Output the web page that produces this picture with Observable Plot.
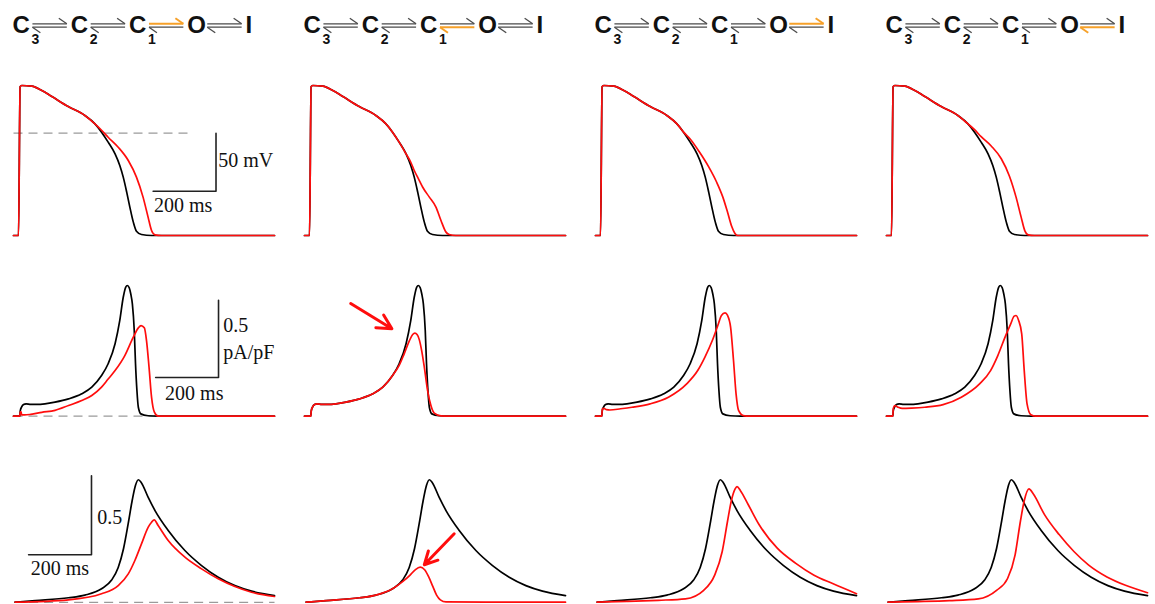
<!DOCTYPE html>
<html><head><meta charset="utf-8">
<script src="https://cdn.jsdelivr.net/npm/d3@7"></script>
<script src="https://cdn.jsdelivr.net/npm/@observablehq/plot@0.6"></script>
<style>
body{margin:0;background:#fff;width:1155px;height:604px;overflow:hidden;font-family:"Liberation Sans",Arial,sans-serif}
#fig svg{display:block;background:#fff}
</style></head><body><div id="fig"></div>
<script>
// ---------- header (kinetic scheme) ----------
const columns = [1, 2, 3, 4];
const states = ["C", "C", "C", "O", "I"];
const stateSubs = ["3", "2", "1", "", ""];
const highlightStep = [2, 2, 3, 3];          // transition index highlighted in each column
const highlightDir = ["fwd", "bwd", "fwd", "bwd"];

// ---------- row 1: membrane potential (ms, mV) ----------
const apControl = [[0,-88],[16,-88],[21,40],[26,41],[58,40.4],[90,36.7],[122,31.5],[174,22.9],[227,15.2],[259,8],[280,0.9],[301,-7.7],[323,-17.8],[338,-27.8],[349,-37.8],[360,-50.7],[370,-63.6],[381,-76.5],[391,-84.3],[407,-87.1],[439,-88],[830,-88]];
const apTail1 = [[280,2.5],[301,-3.5],[333,-12.1],[365,-23.5],[391,-37.8],[412,-55],[428,-72.2],[439,-83.7],[450,-87.4],[471,-88],[830,-88]];
const apTail2 = [[338,-25],[349,-32.1],[362,-39],[376,-46.5],[397,-55],[418,-63.6],[434,-75.1],[450,-85.1],[460,-87.1],[481,-88],[830,-88]];
const apTail3 = [[301,-5],[330,-16],[360,-29],[385,-42],[405,-55],[420,-68],[433,-80],[443,-86],[452,-88],[830,-88]];
const apTail4 = [[280,3],[301,-3],[333,-11],[365,-22],[391,-37],[412,-55],[428,-72],[440,-84],[451,-87.5],[470,-88],[830,-88]];
const apTailStart = [259, 323, 280, 259];   // last control time shared with each red trace

// ---------- row 2: current (ms, pA/pF) ----------
const curControl = [[0,0],[20,0],[21.5,0.035],[26,0.06],[32,0.075],[40,0.08],[55,0.076],[75,0.076],[100,0.08],[132,0.091],[175,0.112],[217,0.145],[249,0.188],[280,0.263],[301,0.339],[323,0.468],[338,0.619],[349,0.769],[357,0.835],[362,0.845],[368,0.83],[373,0.79],[378,0.726],[384,0.554],[388,0.339],[392.5,0.166],[397,0.058],[405,0.015],[428,0.003],[460,0],[830,0]];
const curRed1 = [[0,0],[20,0],[21.5,0.028],[24,0.028],[26,0.008],[35,0.008],[55,0.012],[90,0.025],[132,0.038],[175,0.069],[217,0.101],[249,0.134],[280,0.188],[301,0.24],[323,0.295],[354,0.392],[381,0.511],[397,0.571],[405.5,0.586],[416,0.571],[423,0.489],[431,0.317],[439,0.123],[448,0.026],[460,0],[830,0]];
const curTail2 = [[301,0.328],[317,0.403],[333,0.485],[344,0.528],[351,0.537],[358,0.528],[365,0.495],[372,0.43],[381,0.317],[391.5,0.166],[402,0.069],[412.6,0.02],[434,0.002],[460,0],[830,0]];
const curRed3 = [[0,0],[20,0],[21.5,0.045],[27,0.05],[35,0.042],[46,0.04],[80,0.048],[116,0.058],[174,0.08],[232,0.123],[290,0.209],[325,0.295],[348,0.382],[371.5,0.489],[389,0.586],[400.5,0.651],[412,0.668],[420,0.651],[429.6,0.576],[438.9,0.36],[447,0.144],[455,0.037],[470,0.004],[490,0],[830,0]];
const curRed4 = [[0,0],[20,0],[21.5,0.05],[27,0.068],[35,0.06],[50,0.05],[80,0.052],[122,0.058],[180,0.075],[238,0.123],[296,0.209],[331,0.295],[354,0.392],[377,0.511],[395,0.597],[406,0.647],[412,0.651],[420,0.62],[430,0.532],[438,0.295],[447,0.08],[459,0.01],[475,0],[830,0]];

// ---------- row 3: normalised signal (ms, a.u.) ----------
const sigControl = [[5,0],[69,0.01],[175,0.028],[227,0.045],[280,0.085],[312,0.14],[333,0.22],[350,0.34],[365,0.5],[378,0.65],[388,0.74],[397,0.775],[407,0.755],[428,0.665],[450,0.58],[492,0.454],[545,0.327],[598,0.232],[651,0.158],[704,0.105],[757,0.07],[830,0.042]];
const sigRed1 = [[5,0],[175,0.015],[280,0.053],[333,0.105],[365,0.179],[386,0.264],[407,0.369],[428.5,0.475],[439,0.506],[447.6,0.521],[460,0.485],[492,0.39],[545,0.285],[598,0.211],[651,0.148],[704,0.099],[757,0.063],[830,0.036]];
const sigRed2 = [[5,0],[69,0.01],[175,0.028],[227,0.045],[280,0.085],[312,0.13],[335,0.17],[352,0.205],[368,0.222],[382,0.205],[395,0.16],[408,0.1],[420,0.045],[432,0.015],[450,0.002],[830,0]];
const sigRed3 = [[5,0],[100,0.005],[200,0.012],[286,0.021],[344,0.075],[379,0.171],[403,0.321],[420,0.514],[432,0.642],[444,0.717],[450,0.732],[461,0.706],[485,0.62],[520,0.492],[578,0.342],[637,0.246],[695,0.171],[754,0.118],[830,0.054]];
const sigRed4 = [[5,0],[100,0.004],[200,0.01],[292,0.021],[350,0.075],[385,0.15],[409,0.3],[426,0.514],[438,0.642],[453,0.717],[467,0.685],[502,0.556],[549,0.428],[596,0.321],[643,0.235],[701,0.16],[760,0.107],[830,0.06]];

// ---------- scale bars & labels ----------
const barMs = 200, barMv = 50, barCur = 0.5;
const labelsRow1 = ["50 mV", "200 ms"];
const labelsRow2 = ["0.5", "pA/pF", "200 ms"];
const labelsRow3 = ["0.5", "200 ms"];

// ================= drawing =================
const RED = "#ff0d0d", BLACK = "#000", ORANGE = "#f6a12a", GRAYD = "#9a9a9a";
const W = 1155, ML = 11, MR = 6, PAD = 0.1027;
const fxOpt = {domain: columns, paddingInner: PAD, paddingOuter: 0, axis: null, label: null};
const xOpt = {domain: [0, 830], axis: null};
const lw = 1.7;

const pts = (arr, col) => arr.map(([t, v]) => ({col, t, v}));
const splice = (ctrl, tStop, tail) => [...ctrl.filter(d => d[0] <= tStop), ...tail];

const serif = "'Liberation Serif','Times New Roman',serif";
const sans = "'Liberation Sans',Arial,sans-serif";
const fig = document.getElementById("fig");

// ---- header ----
const hx = 58.5; // px per state index
const letters = columns.flatMap(c => states.map((s, i) => ({col: c, i, s, sub: stateSubs[i]})));
const harps = columns.flatMap((c, ci) => d3.range(4).map(i => ({
  col: c, i,
  top: highlightStep[ci] === i && highlightDir[ci] === "fwd",
  bot: highlightStep[ci] === i && highlightDir[ci] === "bwd"
})));
const a0 = 20 / hx, a1 = 4 / hx, bx = 8 / hx;
const YT = 23.3, YB = 26.7, BY = 5.5;
function harpMarks(data, isHi, which) {
  const sel = data.filter(d => (which === "top" ? d.top : d.bot) === isHi);
  const stroke = isHi ? ORANGE : "#4a4a4a";
  const sw = isHi ? 2 : 1.3;
  if (which === "top") return [
    Plot.link(sel, {fx: "col", x1: d => d.i + a0, x2: d => d.i + 1 - a1, y1: () => YT, y2: () => YT, stroke, strokeWidth: sw}),
    Plot.link(sel, {fx: "col", x1: d => d.i + 1 - a1, x2: d => d.i + 1 - a1 - bx, y1: () => YT, y2: () => YT - BY, stroke, strokeWidth: sw})
  ];
  return [
    Plot.link(sel, {fx: "col", x1: d => d.i + a0, x2: d => d.i + 1 - a1, y1: () => YB, y2: () => YB, stroke, strokeWidth: sw}),
    Plot.link(sel, {fx: "col", x1: d => d.i + a0, x2: d => d.i + a0 + bx, y1: () => YB, y2: () => YB + BY, stroke, strokeWidth: sw})
  ];
}
const header = Plot.plot({
  width: W, height: 60, marginLeft: ML, marginRight: MR, marginTop: 0, marginBottom: 0,
  fx: fxOpt,
  x: {domain: [1 / hx, 263 / hx], axis: null},
  y: {domain: [0, 60], reverse: true, axis: null},
  marks: [
    ...harpMarks(harps, false, "top"), ...harpMarks(harps, false, "bot"),
    ...harpMarks(harps, true, "top"), ...harpMarks(harps, true, "bot"),
    Plot.text(letters, {fx: "col", x: "i", y: () => 25, text: "s", textAnchor: "start", lineAnchor: "middle",
      fontSize: 24, fontWeight: "bold", fontFamily: sans, fill: "#111"}),
    Plot.text(letters.filter(d => d.sub), {fx: "col", x: "i", y: () => 39, dx: 19, text: "sub", textAnchor: "start", lineAnchor: "middle",
      fontSize: 14, fontWeight: "bold", fontFamily: sans, fill: "#111"})
  ]
});
fig.append(header);

// ---- generic row ----
function row({height, mt, mb, ydomain, black, red, extras}) {
  return Plot.plot({
    width: W, height, marginLeft: ML, marginRight: MR, marginTop: mt, marginBottom: mb,
    fx: fxOpt, x: xOpt, y: {domain: ydomain, axis: null},
    marks: [
      ...(extras.under || []),
      Plot.line(black, {fx: "col", x: "t", y: "v", z: "col", stroke: BLACK, strokeWidth: lw, curve: "monotone-x"}),
      Plot.line(red, {fx: "col", x: "t", y: "v", z: "col", stroke: RED, strokeWidth: lw, curve: "monotone-x"}),
      ...(extras.over || [])
    ]
  });
}
const barLine = (pts3) => Plot.line(pts3, {fx: "col", x: "t", y: "v", stroke: "#222", strokeWidth: 1.6});
const dashed = (t0, t1, v) => Plot.link([{col: 1, t0, t1, v}], {fx: "col", x1: "t0", x2: "t1", y1: "v", y2: "v", stroke: GRAYD, strokeWidth: 1.3, strokeDasharray: "9,6"});
const label = (t, v, text) => Plot.text([{col: 1, t, v, text}], {fx: "col", x: "t", y: "v", text: "text", textAnchor: "start", lineAnchor: "middle", fontSize: 20, fontFamily: serif, fill: "#111"});

// Row 1
const apReds = [apTail1, apTail2, apTail3, apTail4].map((tail, k) => pts(splice(apControl, apTailStart[k], tail), k + 1));
const r1bx = 644;
fig.append(row({
  height: 190, mt: 20.35, mb: 12.67, ydomain: [-90, 45],
  black: columns.flatMap(c => pts(apControl, c)),
  red: apReds.flat(),
  extras: {
    under: [dashed(0, 572, 0)],
    over: [
      barLine([{col: 1, t: r1bx, v: 0}, {col: 1, t: r1bx, v: -barMv}, {col: 1, t: r1bx - barMs, v: -barMv}]),
      label(r1bx + 7, -23.5, labelsRow1[0]),
      label(r1bx - barMs + 3, -62, labelsRow1[1])
    ]
  }
}));

// Row 2
const r2bx = 652, r2by = 0.25;
fig.append(row({
  height: 190, mt: 11, mb: 24.3, ydomain: [0, 1],
  black: columns.flatMap(c => pts(curControl, c)),
  red: [...pts(curRed1, 1), ...pts(splice(curControl, 280, curTail2), 2), ...pts(curRed3, 3), ...pts(curRed4, 4)],
  extras: {
    under: [dashed(0, 466, 0)],
    over: [
      barLine([{col: 1, t: r2bx, v: r2by + barCur}, {col: 1, t: r2bx, v: r2by}, {col: 1, t: r2bx - barMs, v: r2by}]),
      label(r2bx + 15, 0.586, labelsRow2[0]),
      label(r2bx + 15, 0.414, labelsRow2[1]),
      label(r2bx - barMs + 30, 0.145, labelsRow2[2]),
      Plot.arrow([{col: 2, t1: 147, v1: 0.728, t2: 278, v2: 0.565}], {fx: "col", x1: "t1", y1: "v1", x2: "t2", y2: "v2", stroke: RED, strokeWidth: 3, headLength: 15, headAngle: 55})
    ]
  }
}));

// Row 3
const r3bx = 248, r3by = 0.3;
fig.append(row({
  height: 164, mt: 3.7, mb: 2.3, ydomain: [0, 1],
  black: columns.flatMap(c => pts(sigControl, c)),
  red: [...pts(sigRed1, 1), ...pts(sigRed2, 2), ...pts(sigRed3, 3), ...pts(sigRed4, 4)],
  extras: {
    under: [dashed(2, 830, -0.001)],
    over: [
      barLine([{col: 1, t: r3bx, v: r3by + barCur}, {col: 1, t: r3bx, v: r3by}, {col: 1, t: r3bx - barMs, v: r3by}]),
      label(r3bx + 18, 0.538, labelsRow3[0]),
      label(r3bx - barMs + 7, 0.211, labelsRow3[1]),
      Plot.arrow([{col: 2, t1: 476, v1: 0.433, t2: 381, v2: 0.237}], {fx: "col", x1: "t1", y1: "v1", x2: "t2", y2: "v2", stroke: RED, strokeWidth: 3, headLength: 15, headAngle: 55})
    ]
  }
}));
</script></body></html>
